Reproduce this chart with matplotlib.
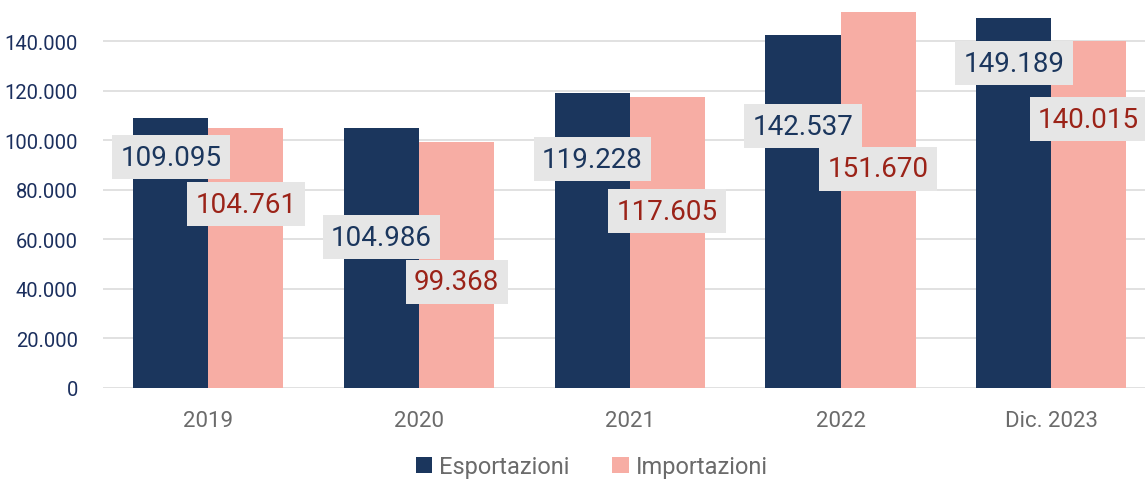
import matplotlib.pyplot as plt
import numpy as np
from matplotlib.ticker import FuncFormatter

plt.rcParams['font.family'] = ['Roboto', 'DejaVu Sans']

categories = ["2019", "2020", "2021", "2022", "Dic. 2023"]
esportazioni = [109095, 104986, 119228, 142537, 149189]
importazioni = [104761, 99368, 117605, 151670, 140015]

# vertical placement of the value boxes (data units), as in the original
exp_label_y = [93200, 60900, 92400, 105700, 131100]
imp_label_y = [74200, 42800, 71400, 88400, 108500]

navy = "#1b365d"
pink = "#f7ada4"
red_txt = "#9b2318"

fig = plt.figure(figsize=(11.45, 4.81), dpi=100)
ax = fig.add_axes([103 / 1145, 92 / 481, 1 - 103 / 1145, 1 - 92 / 481])

x = np.arange(len(categories))
w = 0.356
ax.bar(x - w / 2, esportazioni, w, color=navy, label="Esportazioni", zorder=3)
ax.bar(x + w / 2, importazioni, w, color=pink, label="Importazioni", zorder=3)

fmt = lambda v: f"{v:,.0f}".replace(",", ".")
box = dict(boxstyle="square,pad=0.3", facecolor="#e6e6e6", edgecolor="none")
for i in range(len(categories)):
    ax.text(x[i] - w / 2, exp_label_y[i], fmt(esportazioni[i]), ha="center", va="center",
            fontsize=20, color=navy, bbox=box, zorder=4)
    ax.text(x[i] + w / 2, imp_label_y[i], fmt(importazioni[i]), ha="center", va="center",
            fontsize=20, color=red_txt, bbox=box, zorder=5)

ax.set_ylim(0, 157000)
ax.set_xlim(-0.5, 4.445)
ax.set_yticks(range(0, 140001, 20000))
ax.yaxis.set_major_formatter(FuncFormatter(lambda v, p: fmt(v)))
ax.set_xticks(x)
ax.set_xticklabels(categories)
ax.tick_params(axis="y", length=0, labelsize=14.5, labelcolor="#1b2f5e", pad=18)
ax.tick_params(axis="x", length=0, labelsize=16, labelcolor="#6b6b6b", pad=16)
ax.grid(axis="y", color="#dedede", linewidth=1.3, zorder=0)
for s in ax.spines.values():
    s.set_visible(False)

handles, labels = ax.get_legend_handles_labels()
leg = fig.legend(handles, labels, loc="center", bbox_to_anchor=(0.517, 0.028), ncol=2,
                 frameon=False, fontsize=17, handlelength=0.7, handleheight=0.7,
                 handletextpad=0.3, columnspacing=1.8, borderpad=0)
for t in leg.get_texts():
    t.set_color("#6b6b6b")

fig.savefig("out.png", dpi=100)
